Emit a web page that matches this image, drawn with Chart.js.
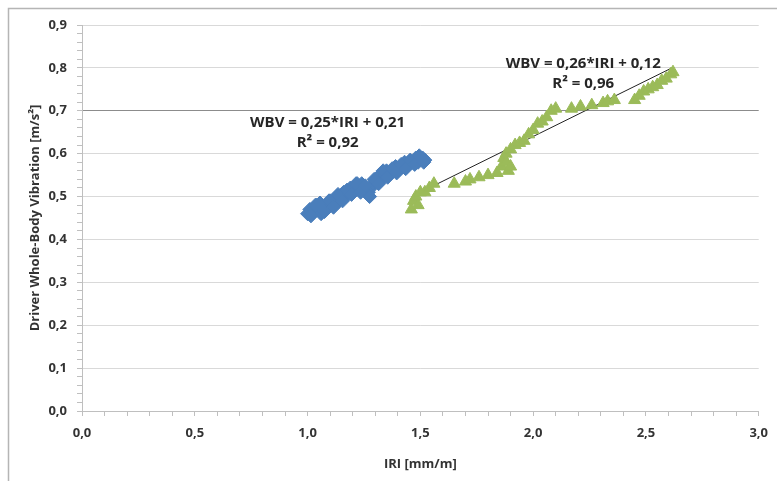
<!DOCTYPE html>
<html>
<head>
<meta charset="utf-8">
<script src="https://cdn.jsdelivr.net/npm/chart.js@4.4.1/dist/chart.umd.min.js"></script>
<style>
  html, body { margin: 0; padding: 0; background: #fff; }
  #wrap { width: 777px; height: 481px; }
</style>
</head>
<body>
<div id="wrap"><canvas id="wbvChart"></canvas></div>
<script>
// --- данные ---
const blueIRI = [1.00, 1.01, 1.02, 1.03, 1.04, 1.05, 1.06, 1.07, 1.08, 1.09, 1.10, 1.11, 1.12, 1.13,
  1.14, 1.15, 1.16, 1.17, 1.18, 1.19, 1.20, 1.21, 1.22, 1.23, 1.24, 1.25, 1.26, 1.27, 1.28, 1.29,
  1.30, 1.31, 1.32, 1.33, 1.34, 1.35, 1.36, 1.37, 1.38, 1.39, 1.40, 1.41, 1.42, 1.43, 1.44, 1.45,
  1.46, 1.47, 1.48, 1.49, 1.50, 1.51, 1.52,
  1.015, 1.035, 1.055, 1.075, 1.095, 1.115, 1.135, 1.155, 1.175, 1.195, 1.215, 1.235, 1.255,
  1.275, 1.295, 1.315, 1.335, 1.355, 1.375, 1.395, 1.415, 1.435, 1.455, 1.475, 1.495, 1.515];
const blueWBV = [0.46, 0.47, 0.46, 0.47, 0.48, 0.47, 0.46, 0.47, 0.48, 0.48, 0.49, 0.48, 0.49, 0.50,
  0.49, 0.50, 0.51, 0.50, 0.51, 0.52, 0.51, 0.52, 0.53, 0.52, 0.53, 0.52, 0.51, 0.51, 0.52, 0.53,
  0.54, 0.54, 0.55, 0.54, 0.55, 0.56, 0.55, 0.56, 0.56, 0.57, 0.56, 0.57, 0.57, 0.58, 0.57, 0.58,
  0.58, 0.58, 0.59, 0.58, 0.59, 0.59, 0.585,
  0.455, 0.48, 0.485, 0.465, 0.49, 0.475, 0.505, 0.49, 0.515, 0.505, 0.53, 0.51, 0.525,
  0.50, 0.54, 0.53, 0.56, 0.545, 0.565, 0.555, 0.575, 0.565, 0.585, 0.575, 0.595, 0.58];

const greenIRI = [1.46, 1.47, 1.48, 1.49, 1.50, 1.52, 1.54, 1.56, 1.65, 1.70, 1.72, 1.76, 1.80, 1.84,
  1.86, 1.87, 1.88, 1.89, 1.90, 1.88, 1.90, 1.92, 1.94, 1.96, 1.98, 2.00, 2.02, 2.04, 2.06, 2.08,
  2.10, 2.17, 2.21, 2.26, 2.31, 2.33, 2.36, 2.45, 2.47, 2.49, 2.51, 2.53, 2.55, 2.57, 2.59, 2.61, 2.62];
const greenWBV = [0.47, 0.49, 0.50, 0.48, 0.51, 0.51, 0.52, 0.53, 0.53, 0.535, 0.54, 0.545, 0.55, 0.555,
  0.57, 0.59, 0.58, 0.56, 0.57, 0.60, 0.61, 0.62, 0.625, 0.63, 0.645, 0.655, 0.67, 0.675, 0.685, 0.70,
  0.705, 0.705, 0.71, 0.713, 0.718, 0.722, 0.725, 0.725, 0.735, 0.745, 0.75, 0.755, 0.76, 0.77, 0.775, 0.785, 0.79];

// линии тренда (Excel): WBV = a*IRI + b
const blueTrend = { a: 0.25, b: 0.21, from: 1.00, to: 1.52 };
const greenTrend = { a: 0.26, b: 0.12, from: 1.47, to: 2.62 };

const blueLabel = ["WBV = 0,25*IRI + 0,21", "R\u00B2 = 0,92"];
const greenLabel = ["WBV = 0,26*IRI + 0,12", "R\u00B2 = 0,96"];

const FONT = "'Open Sans', sans-serif";

const toPts = (xs, ys) => xs.map((x, i) => ({ x, y: ys[i] }));
const trendPts = t => [t.from, t.to].map(x => ({ x, y: t.a * x + t.b }));
const comma = v => v.toFixed(1).replace(".", ",");
const isMajor = (v, step) => Math.abs(v / step - Math.round(v / step)) < 1e-6;

// рамка вокруг всей диаграммы
const framePlugin = {
  id: "frame",
  beforeDraw(chart) {
    const ctx = chart.ctx;
    ctx.save();
    ctx.strokeStyle = "#b5b5b5";
    ctx.lineWidth = 1.5;
    ctx.strokeRect(8.5, 8.5, chart.width + 20, chart.height + 20);
    ctx.restore();
  }
};

// подписи уравнений
const eqPlugin = {
  id: "equations",
  afterDatasetsDraw(chart) {
    const { ctx, scales: { x, y } } = chart;
    const put = (lines, xv, yv) => {
      ctx.save();
      ctx.font = "bold 15px " + FONT;
      ctx.fillStyle = "#262626";
      ctx.textAlign = "center";
      ctx.textBaseline = "middle";
      ctx.fillText(lines[0], x.getPixelForValue(xv), y.getPixelForValue(yv));
      ctx.fillText(lines[1], x.getPixelForValue(xv), y.getPixelForValue(yv) + 20);
      ctx.restore();
    };
    put(blueLabel, 1.089, 0.671);
    put(greenLabel, 2.222, 0.809);
  }
};

const tickFont = { family: FONT, size: 13, weight: "bold" };

new Chart(document.getElementById("wbvChart"), {
  type: "scatter",
  data: {
    datasets: [
      {
        label: "blue",
        data: toPts(blueIRI, blueWBV),
        pointStyle: "rectRot",
        pointRadius: 7,
        backgroundColor: "#4a7ebb",
        borderColor: "#4a7ebb",
        borderWidth: 1
      },
      {
        label: "green",
        data: toPts(greenIRI, greenWBV),
        pointStyle: "triangle",
        pointRadius: 7,
        backgroundColor: "#9bbb59",
        borderColor: "#9bbb59",
        borderWidth: 1
      },
      {
        label: "trend blue",
        data: trendPts(blueTrend),
        showLine: true,
        borderColor: "#222",
        borderWidth: 1,
        pointRadius: 0
      },
      {
        label: "trend green",
        data: trendPts(greenTrend),
        showLine: true,
        borderColor: "#222",
        borderWidth: 1,
        pointRadius: 0
      }
    ]
  },
  options: {
    responsive: true,
    maintainAspectRatio: false,
    animation: false,
    layout: { padding: { left: 0, top: 25, right: 12, bottom: 0 } },
    plugins: { legend: { display: false }, tooltip: { enabled: false } },
    scales: {
      x: {
        type: "linear",
        min: 0,
        max: 3,
        afterFit: s => { s.height = 70; },
        border: { color: "#bfbfbf" },
        grid: { color: "rgba(0,0,0,0)", tickColor: "#bfbfbf", tickLength: 5 },
        ticks: {
          stepSize: 0.1,
          autoSkip: false,
          maxRotation: 0,
          padding: 9,
          color: "#333",
          font: tickFont,
          callback: v => isMajor(v, 0.5) ? comma(v) : ""
        },
        title: {
          display: true,
          text: "IRI [mm/m]",
          color: "#333",
          font: { family: FONT, size: 13, weight: "bold" },
          padding: { top: 0, bottom: 9 }
        }
      },
      y: {
        type: "linear",
        min: 0,
        max: 0.9,
        afterFit: s => { s.width = 82; },
        border: { color: "#bfbfbf" },
        grid: {
          color: c => {
            const v = c.tick.value;
            if (Math.abs(v - 0.7) < 1e-6) return "#8c8c8c";
            return isMajor(v, 0.1) ? "#d9d9d9" : "rgba(0,0,0,0)";
          },
          tickColor: "#bfbfbf",
          tickLength: 5
        },
        ticks: {
          stepSize: 0.02,
          autoSkip: false,
          padding: 10,
          color: "#333",
          font: tickFont,
          callback: v => isMajor(v, 0.1) ? comma(v) : ""
        },
        title: {
          display: true,
          text: "Driver Whole-Body Vibration [m/s\u00B2]",
          color: "#333",
          font: { family: FONT, size: 13, weight: "bold" },
          padding: { top: 27, bottom: 0 }
        }
      }
    }
  },
  plugins: [framePlugin, eqPlugin]
});
</script>
</body>
</html>
